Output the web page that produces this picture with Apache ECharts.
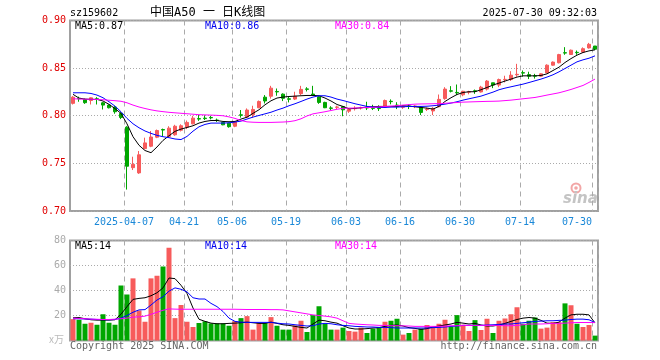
<!DOCTYPE html>
<html><head><meta charset="utf-8">
<script src="https://cdn.jsdelivr.net/npm/echarts/dist/echarts.min.js"></script>
<style>html,body{margin:0;padding:0;background:#fff}#c{width:660px;height:360px}</style>
</head><body><div id="c"></div>
<script>
const categories = ['2025-03-24','2025-03-25','2025-03-26','2025-03-27','2025-03-28','2025-03-31','2025-04-01','2025-04-02','2025-04-03',
'2025-04-07','2025-04-08','2025-04-09','2025-04-10','2025-04-11','2025-04-14','2025-04-15','2025-04-16','2025-04-17','2025-04-18',
'2025-04-21','2025-04-22','2025-04-23','2025-04-24','2025-04-25','2025-04-28','2025-04-29','2025-04-30',
'2025-05-06','2025-05-07','2025-05-08','2025-05-09','2025-05-12','2025-05-13','2025-05-14','2025-05-15','2025-05-16',
'2025-05-19','2025-05-20','2025-05-21','2025-05-22','2025-05-23','2025-05-26','2025-05-27','2025-05-28','2025-05-29','2025-05-30',
'2025-06-03','2025-06-04','2025-06-05','2025-06-06','2025-06-09','2025-06-10','2025-06-11','2025-06-12','2025-06-13',
'2025-06-16','2025-06-17','2025-06-18','2025-06-19','2025-06-20','2025-06-23','2025-06-24','2025-06-25','2025-06-26','2025-06-27',
'2025-06-30','2025-07-01','2025-07-02','2025-07-03','2025-07-04','2025-07-07','2025-07-08','2025-07-09','2025-07-10','2025-07-11',
'2025-07-14','2025-07-15','2025-07-16','2025-07-17','2025-07-18','2025-07-21','2025-07-22','2025-07-23','2025-07-24','2025-07-25',
'2025-07-28','2025-07-29','2025-07-30'];
const tickDates = ['2025-04-07','2025-04-21','2025-05-06','2025-05-19','2025-06-03','2025-06-16','2025-06-30','2025-07-14','2025-07-30'];
const tickLabels = ['2025-04-07','04-21','05-06','05-19','06-03','06-16','06-30','07-14','07-30'];
const priceTicks = [0.70, 0.75, 0.80, 0.85, 0.90];
const volTicks = [0, 20, 40, 60, 80];

const opens = [0.8130,0.8182,0.8170,0.8160,0.8178,0.8136,0.8112,0.8091,0.8024,
0.7880,0.7455,0.7400,0.7655,0.7680,0.7775,0.7855,0.7783,0.7800,0.7848,
0.7880,0.7915,0.7970,0.7975,0.7982,0.7955,0.7930,0.7922,
0.7890,0.8010,0.7986,0.8010,0.8084,0.8195,0.8205,0.8255,0.8227,
0.8178,0.8175,0.8232,0.8282,0.8228,0.8198,0.8140,0.8082,0.8088,0.8095,
0.8048,0.8074,0.8082,0.8086,0.8082,0.8080,0.8092,0.8152,0.8112,
0.8090,0.8102,0.8098,0.8090,0.8066,0.8050,0.8095,0.8180,0.8262,0.8245,
0.8220,0.8248,0.8262,0.8250,0.8280,0.8346,0.8322,0.8378,0.8380,0.8430,
0.8452,0.8432,0.8420,0.8416,0.8450,0.8531,0.8556,0.8662,0.8643,0.8666,
0.8668,0.8712,0.8732];
const closes = [0.8195,0.8178,0.8137,0.8188,0.8172,0.8112,0.8084,0.8042,0.7982,
0.7470,0.7490,0.7590,0.7715,0.7777,0.7845,0.7850,0.7870,0.7890,0.7895,
0.7930,0.7975,0.7965,0.7970,0.7978,0.7950,0.7905,0.7885,
0.7940,0.8005,0.8060,0.8066,0.8150,0.8155,0.8290,0.8250,0.8183,
0.8173,0.8205,0.8277,0.8277,0.8218,0.8140,0.8084,0.8078,0.8092,0.8062,
0.8066,0.8078,0.8086,0.8082,0.8078,0.8075,0.8160,0.8148,0.8105,
0.8094,0.8098,0.8102,0.8035,0.8070,0.8077,0.8172,0.8280,0.8258,0.8240,
0.8257,0.8252,0.8258,0.8300,0.8364,0.8322,0.8380,0.8382,0.8426,0.8435,
0.8448,0.8415,0.8416,0.8440,0.8531,0.8563,0.8642,0.8658,0.8688,0.8662,
0.8704,0.8750,0.8698];
const lows = [0.8118,0.8147,0.8125,0.8118,0.8118,0.8066,0.8077,0.8021,0.7965,
0.7225,0.7430,0.7390,0.7650,0.7670,0.7765,0.7785,0.7775,0.7790,0.7835,
0.7860,0.7910,0.7946,0.7955,0.7962,0.7935,0.7900,0.7875,
0.7880,0.7980,0.7980,0.7980,0.8080,0.8129,0.8180,0.8210,0.8154,
0.8140,0.8165,0.8217,0.8255,0.8215,0.8125,0.8080,0.8060,0.8070,0.7995,
0.8030,0.8055,0.8065,0.8060,0.8060,0.8050,0.8085,0.8120,0.8070,
0.8072,0.8070,0.8080,0.8007,0.8050,0.8007,0.8090,0.8168,0.8245,0.8217,
0.8205,0.8225,0.8230,0.8244,0.8265,0.8290,0.8300,0.8350,0.8365,0.8410,
0.8410,0.8385,0.8390,0.8410,0.8448,0.8525,0.8550,0.8640,0.8640,0.8640,
0.8660,0.8705,0.8695];
const highs = [0.8206,0.8200,0.8180,0.8192,0.8195,0.8145,0.8118,0.8101,0.8035,
0.7890,0.7570,0.7630,0.7770,0.7840,0.7855,0.7865,0.7890,0.7905,0.7910,
0.7950,0.8000,0.8010,0.8005,0.8000,0.7970,0.7935,0.7925,
0.7945,0.8060,0.8077,0.8105,0.8160,0.8217,0.8314,0.8286,0.8235,
0.8200,0.8252,0.8314,0.8300,0.8314,0.8205,0.8147,0.8100,0.8105,0.8100,
0.8080,0.8100,0.8095,0.8147,0.8115,0.8110,0.8170,0.8172,0.8142,
0.8110,0.8120,0.8110,0.8100,0.8085,0.8090,0.8223,0.8300,0.8311,0.8328,
0.8262,0.8262,0.8275,0.8314,0.8375,0.8346,0.8390,0.8420,0.8468,0.8545,
0.8475,0.8462,0.8440,0.8445,0.8540,0.8570,0.8650,0.8720,0.8695,0.8685,
0.8718,0.8765,0.8732];
const volumes = [17.1,16.6,13.4,14.2,12.6,21.0,14.2,12.6,44.0,
36.8,49.7,24.0,15.0,49.7,51.8,59.2,74.2,17.9,28.4,
15.0,10.8,14.0,15.3,13.7,13.7,13.7,11.8,
15.5,17.9,19.5,8.7,13.9,13.9,18.7,11.8,8.7,
8.7,12.1,15.8,6.8,20.3,27.4,13.2,8.7,8.7,10.3,
7.6,7.1,10.3,6.0,9.5,10.8,15.0,15.8,17.4,
4.7,6.0,8.7,9.5,12.4,10.5,13.4,16.6,11.3,20.3,
12.6,7.6,16.3,8.4,17.4,6.0,15.8,17.6,21.0,26.6,
13.4,15.8,18.4,9.5,10.3,14.7,14.7,29.7,28.2,13.4,
10.8,12.4,3.9];
const ma5 = [0.8225,0.8185,0.8175,0.8172,0.8172,0.8155,0.8120,0.8075,0.8025,
0.7915,0.7780,0.7690,0.7635,0.7612,0.7672,0.7741,0.7790,0.7836,0.7860,
0.7877,0.7895,0.7923,0.7940,0.7950,0.7950,0.7940,0.7937,
0.7940,0.7965,0.7985,0.8025,0.8063,0.8115,0.8157,0.8186,0.8196,
0.8202,0.8206,0.8210,0.8213,0.8213,0.8210,0.8186,0.8155,0.8118,0.8098,
0.8073,0.8077,0.8084,0.8091,0.8094,0.8098,0.8098,0.8098,0.8098,
0.8105,0.8101,0.8094,0.8087,0.8080,0.8070,0.8098,0.8150,0.8189,0.8223,
0.8244,0.8252,0.8252,0.8273,0.8297,0.8322,0.8343,0.8364,0.8385,0.8406,
0.8419,0.8419,0.8419,0.8423,0.8440,0.8475,0.8510,0.8559,0.8600,0.8636,
0.8664,0.8681,0.8692];
const ma10 = [0.8241,0.8241,0.8241,0.8234,0.8217,0.8189,0.8147,0.8101,0.8042,
0.7972,0.7916,0.7874,0.7840,0.7815,0.7794,0.7780,0.7770,0.7756,0.7750,
0.7783,0.7838,0.7884,0.7909,0.7923,0.7923,0.7923,0.7926,
0.7934,0.7944,0.7965,0.7986,0.8003,0.8020,0.8037,0.8060,0.8080,
0.8105,0.8126,0.8150,0.8175,0.8196,0.8210,0.8210,0.8196,0.8175,0.8160,
0.8143,0.8126,0.8112,0.8098,0.8091,0.8087,0.8087,0.8091,0.8091,
0.8094,0.8098,0.8098,0.8098,0.8100,0.8105,0.8112,0.8122,0.8133,0.8147,
0.8164,0.8178,0.8192,0.8206,0.8227,0.8248,0.8273,0.8290,0.8304,0.8318,
0.8332,0.8349,0.8367,0.8385,0.8406,0.8430,0.8461,0.8496,0.8531,0.8566,
0.8587,0.8604,0.8629];
const ma30 = [0.8178,0.8176,0.8174,0.8173,0.8171,0.8168,0.8163,0.8158,0.8152,
0.8136,0.8112,0.8092,0.8076,0.8062,0.8051,0.8043,0.8036,0.8031,0.8026,
0.8021,0.8016,0.8011,0.8009,0.8007,0.8004,0.8000,0.7988,
0.7972,0.7950,0.7936,0.7932,0.7930,0.7930,0.7930,0.7932,0.7934,
0.7938,0.7948,0.7968,0.7998,0.8020,0.8031,0.8042,0.8055,0.8068,0.8078,
0.8080,0.8081,0.8084,0.8086,0.8089,0.8093,0.8097,0.8101,0.8106,
0.8112,0.8117,0.8122,0.8124,0.8125,0.8126,0.8128,0.8131,0.8135,0.8139,
0.8143,0.8145,0.8147,0.8149,0.8151,0.8152,0.8154,0.8159,0.8164,0.8171,
0.8178,0.8185,0.8192,0.8204,0.8217,0.8229,0.8241,0.8258,0.8276,0.8297,
0.8318,0.8350,0.8385];
const volMa5 = [18.2,18.4,17.4,16.6,16.3,16.3,16.3,16.6,21.0,
27.1,32.9,33.7,34.2,35.8,38.2,42.1,50.0,49.5,44.2,
37.6,26.0,17.0,15.3,13.9,13.4,13.4,13.7,
13.9,14.2,14.7,14.2,13.7,13.7,14.7,13.7,12.6,
12.1,11.3,10.5,10.0,13.2,16.3,15.8,14.7,13.9,11.8,
10.0,9.2,9.2,9.5,10.0,10.3,11.3,12.1,12.4,
11.6,10.3,9.7,8.9,9.5,10.8,11.6,12.4,13.2,14.5,
13.9,13.2,13.7,12.4,11.6,11.6,12.4,13.7,15.3,16.8,
17.9,18.4,17.9,16.1,13.9,13.7,14.7,17.9,20.5,21.0,
21.0,20.5,14.0];
const volMa10 = [17.4,17.4,17.2,17.1,16.8,16.7,16.6,16.8,17.9,
20.0,22.6,24.5,24.7,28.4,32.4,35.0,39.5,42.1,41.0,
38.9,34.2,33.2,33.2,29.7,27.1,23.2,17.9,
15.3,14.7,14.5,14.5,14.5,14.5,14.5,13.9,13.4,
13.2,12.6,12.1,11.6,11.8,13.2,13.7,13.4,12.6,12.1,
11.8,11.3,11.1,10.8,10.8,10.5,10.5,10.3,10.0,
10.0,10.0,10.0,10.0,10.0,10.3,10.5,10.8,11.3,11.6,
12.1,12.1,12.1,12.1,12.4,12.6,12.9,13.2,13.2,13.7,
14.2,14.7,15.3,15.5,15.8,15.8,16.1,16.3,16.8,17.1,
17.1,16.6,14.4];
const volMa30 = [17.9,17.7,17.4,17.1,17.0,16.8,16.8,17.1,17.4,
17.9,18.7,18.9,19.5,21.0,22.6,24.2,25.3,25.1,25.0,
25.0,25.0,25.0,25.0,25.0,25.0,25.0,25.0,
25.0,24.9,24.8,24.8,24.8,24.8,24.7,24.7,24.5,
23.7,22.9,22.1,21.3,20.5,20.0,19.5,18.9,17.9,15.8,
13.7,13.2,12.9,12.6,12.4,12.1,12.1,11.8,11.8,
11.7,11.6,11.3,11.3,11.3,11.3,11.3,11.5,11.8,11.8,
12.1,12.1,12.1,12.1,12.1,12.1,12.1,11.8,11.8,12.1,
12.6,13.2,13.2,13.2,13.4,13.7,13.7,13.9,14.2,14.4,
14.4,14.4,14.3];

const UP = '#f75b5b', DOWN = '#00a600';
const MONO = "'DejaVu Sans Mono', 'Liberation Mono', monospace";
const XCOL = '#1a88d8';
const candleData = categories.map((d, i) => [opens[i], closes[i], lows[i], highs[i]]);
const volData = volumes.map((v, i) => ({ value: v, itemStyle: { color: closes[i] >= opens[i] ? UP : DOWN } }));
const isTick = (idx, val) => tickDates.indexOf(val) >= 0;
const lastFmt = (a, d) => a[a.length - 1].toFixed(d);

const chart = echarts.init(document.getElementById('c'), null, { renderer: 'canvas' });
const splitV = { show: true, interval: isTick, lineStyle: { color: '#aaa', type: [5, 4], width: 1 } };
const gridCommon = { left: 70, width: 528, show: true, borderColor: '#a0a0a0', borderWidth: 2, backgroundColor: 'transparent' };
function txt(x, y, text, color, opts) {
  return { type: 'text', x: x, y: y, silent: true, z: 10, style: Object.assign({ text: text, fill: color, font: '10px ' + MONO, textVerticalAlign: 'middle', textAlign: 'left' }, opts || {}) };
}
const labRich = {
  n: { color: XCOL, fontFamily: MONO, fontSize: 10, padding: [0, 6, 0, 0] },
  e: { color: XCOL, fontFamily: MONO, fontSize: 10, padding: [0, 36, 0, 0] }
};
chart.setOption({
  animation: false,
  backgroundColor: '#fff',
  grid: [
    Object.assign({ top: 20.5, height: 190.5 }, gridCommon),
    Object.assign({ top: 240.5, height: 100 }, gridCommon)
  ],
  xAxis: [
    { type: 'category', gridIndex: 0, data: categories, boundaryGap: true,
      axisLine: { show: false }, axisTick: { show: false }, splitLine: splitV,
      axisLabel: { interval: isTick, color: XCOL, fontFamily: MONO, fontSize: 10, margin: 6, rich: labRich,
        formatter: v => { const i = tickDates.indexOf(v); return (i === tickDates.length - 1 ? '{e|' : '{n|') + tickLabels[i] + '}'; } } },
    { type: 'category', gridIndex: 1, data: categories, boundaryGap: true,
      axisLine: { show: false }, axisTick: { show: false }, splitLine: splitV, axisLabel: { show: false } }
  ],
  yAxis: [
    { type: 'value', gridIndex: 0, min: priceTicks[0], max: priceTicks[priceTicks.length - 1], interval: 0.05,
      axisLine: { show: false }, axisTick: { show: false },
      splitLine: { show: true, lineStyle: { color: '#aaa', type: [1, 2], width: 1 } },
      axisLabel: { color: '#e00000', fontFamily: MONO, fontSize: 10, margin: 4, formatter: v => v.toFixed(2) } },
    { type: 'value', gridIndex: 1, min: volTicks[0], max: volTicks[volTicks.length - 1], interval: 20,
      axisLine: { show: false }, axisTick: { show: false },
      splitLine: { show: true, lineStyle: { color: '#aaa', type: [1, 2], width: 1 } },
      axisLabel: { color: '#aaa', fontFamily: MONO, fontSize: 10, margin: 4, formatter: v => v === 0 ? '' : String(v) } }
  ],
  series: [
    { type: 'candlestick', xAxisIndex: 0, yAxisIndex: 0, data: candleData, barWidth: 4,
      itemStyle: { color: UP, color0: DOWN, borderColor: UP, borderColor0: DOWN, borderWidth: 1 }, z: 2 },
    { type: 'line', xAxisIndex: 0, yAxisIndex: 0, data: ma5, showSymbol: false, lineStyle: { color: '#000', width: 1 }, z: 3 },
    { type: 'line', xAxisIndex: 0, yAxisIndex: 0, data: ma10, showSymbol: false, lineStyle: { color: '#0000ff', width: 1 }, z: 3 },
    { type: 'line', xAxisIndex: 0, yAxisIndex: 0, data: ma30, showSymbol: false, lineStyle: { color: '#ff00ff', width: 1 }, z: 3 },
    { type: 'bar', xAxisIndex: 1, yAxisIndex: 1, data: volData, barWidth: 5, z: 2 },
    { type: 'line', xAxisIndex: 1, yAxisIndex: 1, data: volMa5, showSymbol: false, lineStyle: { color: '#000', width: 1 }, z: 3 },
    { type: 'line', xAxisIndex: 1, yAxisIndex: 1, data: volMa10, showSymbol: false, lineStyle: { color: '#0000ff', width: 1 }, z: 3 },
    { type: 'line', xAxisIndex: 1, yAxisIndex: 1, data: volMa30, showSymbol: false, lineStyle: { color: '#ff00ff', width: 1 }, z: 3 }
  ],
  graphic: [
    txt(70, 13.5, 'sz159602', '#000'),
    txt(150, 12.5, '中国A50 一 日K线图', '#000', { font: "12px 'DejaVu Sans Mono', 'Noto Sans CJK SC', monospace" }),
    txt(597, 13, '2025-07-30 09:32:03', '#000', { textAlign: 'right' }),
    txt(75, 26, 'MA5:' + lastFmt(ma5, 2), '#000'),
    txt(205, 26, 'MA10:' + lastFmt(ma10, 2), '#0000ee'),
    txt(335, 26, 'MA30:' + lastFmt(ma30, 2), '#ff00ff'),
    txt(75, 246.5, 'MA5:' + lastFmt(volMa5, 0), '#000'),
    txt(205, 246.5, 'MA10:' + lastFmt(volMa10, 0), '#0000ee'),
    txt(335, 246.5, 'MA30:' + lastFmt(volMa30, 0), '#ff00ff'),
    txt(49, 339.5, 'x万', '#bbb', { font: "10px 'Noto Sans CJK SC', sans-serif" }),
    txt(70, 346, 'Copyright 2025 SINA.COM', '#666'),
    txt(597, 346, 'http://finance.sina.com.cn', '#666', { textAlign: 'right' }),
    { type: 'group', x: 563, y: 183, silent: true, z: 1, children: [
      { type: 'circle', shape: { cx: 13, cy: 5, r: 4.5 }, style: { fill: 'none', stroke: '#f2a6a6', lineWidth: 2 } },
      { type: 'circle', shape: { cx: 13, cy: 5, r: 1.8 }, style: { fill: '#f2a6a6' } },
      { type: 'text', x: 0, y: 9, style: { text: 'sina', fill: '#c4c4c4', font: "italic bold 15px 'DejaVu Sans', sans-serif" } }
    ] }
  ]
});
</script>
</body></html>
